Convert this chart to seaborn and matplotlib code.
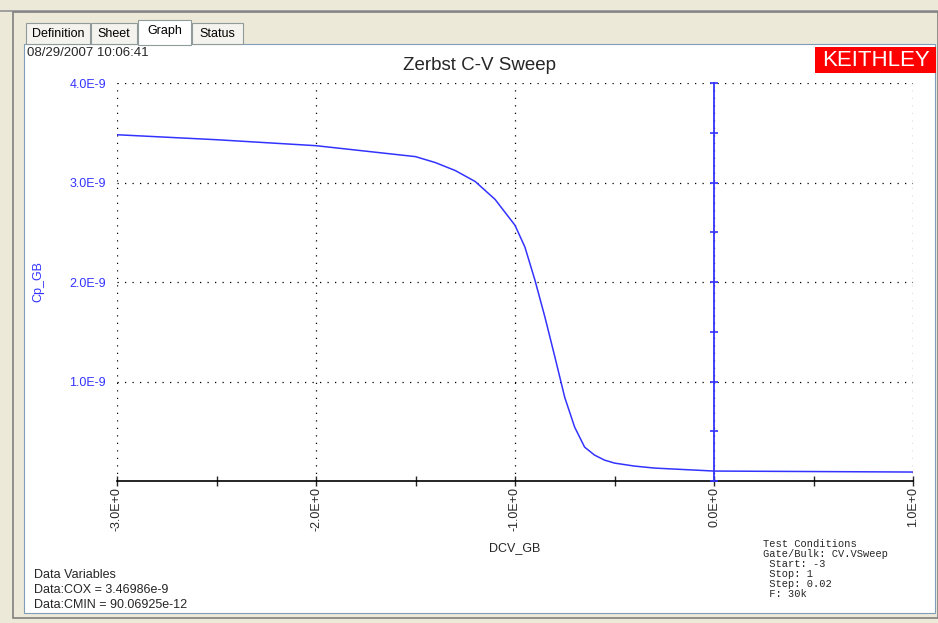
import numpy as np
import pandas as pd
import seaborn as sns
import matplotlib.pyplot as plt
from matplotlib.patches import Rectangle

# C-V sweep (gate voltage in V, capacitance in F)
dcv_gb = [-3.0, -2.5, -2.0, -1.5, -1.4, -1.3, -1.2, -1.1, -1.0, -0.95, -0.9,
          -0.85, -0.8, -0.75, -0.7, -0.65, -0.6, -0.55, -0.5, -0.4, -0.3,
          -0.2, -0.1, 0.0, 0.5, 1.0]
cp_gb = [3.48e-9, 3.43e-9, 3.37e-9, 3.26e-9, 3.20e-9, 3.12e-9, 3.01e-9,
         2.83e-9, 2.57e-9, 2.35e-9, 2.02e-9, 1.65e-9, 1.25e-9, 0.84e-9,
         0.54e-9, 0.34e-9, 0.26e-9, 0.21e-9, 0.18e-9, 0.15e-9, 0.13e-9,
         0.12e-9, 0.11e-9, 0.10e-9, 0.095e-9, 0.09e-9]

x_ticks = [-3, -2, -1, 0, 1]
x_labels = ["-3.0E+0", "-2.0E+0", "-1.0E+0", "0.0E+0", "1.0E+0"]
y_ticks = [1e-9, 2e-9, 3e-9, 4e-9]
y_labels = ["1.0E-9", "2.0E-9", "3.0E-9", "4.0E-9"]
tabs = ["Definition", "Sheet", "Graph", "Status"]
test_conditions = ["Test Conditions", "Gate/Bulk: CV.VSweep", " Start: -3",
                   " Stop: 1", " Step: 0.02", " F: 30k"]
data_vars = ["Data Variables", "Data:COX = 3.46986e-9",
             "Data:CMIN = 90.06925e-12"]

df = pd.DataFrame({"DCV_GB": dcv_gb, "Cp_GB": cp_gb})

sns.set_style("white")
plt.rcParams["font.family"] = ["Liberation Sans", "DejaVu Sans"]

W, H = 938, 623
fig = plt.figure(figsize=(W / 100, H / 100), dpi=100, facecolor="#ece9d8")


def box(x, y, w, h, **kw):
    # pixel box (top-left origin) -> rectangle in figure fraction
    r = Rectangle((x / W, 1 - (y + h) / H), w / W, h / H,
                  transform=fig.transFigure, **kw)
    fig.patches.append(r)


# window chrome
box(0, 10, W, 2, facecolor="#a0a0a0", edgecolor="none")
box(13, 12, 925, 606, facecolor="#ece9d8", edgecolor="#808080", lw=1.2)
box(24, 44, 911, 569, facecolor="white", edgecolor="#7f9db9", lw=0.8)
tab_x = [26, 91, 138, 192]
tab_w = [64, 46, 53, 51]
for name, tx, tw in zip(tabs, tab_x, tab_w):
    sel = name == "Graph"
    top = 20 if sel else 23
    box(tx, top, tw, 44 - top + (1 if sel else 0),
        facecolor="white" if sel else "#f4f3ee", edgecolor="#919b9c", lw=0.8)
    fig.text((tx + tw / 2) / W, 1 - (top + 11) / H, name, ha="center",
             va="center", fontsize=9, color="black")

fig.text(27 / W, 1 - 53 / H, "08/29/2007 10:06:41", fontsize=9.5, va="center")

# Keithley logo
box(815, 47, 121, 26, facecolor="#ff0000", edgecolor="none")
fig.text(876 / W, 1 - 61 / H, "KEITHLEY", color="white", fontsize=16,
         ha="center", va="center")

fig.text(479 / W, 1 - 65 / H, "Zerbst C-V Sweep", fontsize=13.5,
         ha="center", va="center")

ax = fig.add_axes([117 / W, 1 - 481 / H, 796 / W, 398 / H])
ax.set_zorder(3)
sns.lineplot(data=df, x="DCV_GB", y="Cp_GB", ax=ax, color="#3333ff", lw=1.1)
ax.set_xlim(-3, 1)
ax.set_ylim(0, 4e-9)
ax.set_facecolor("white")
ax.set_xticks(x_ticks)
ax.set_xticklabels(x_labels, rotation=90, fontsize=9)
ax.set_xticks([-2.5, -1.5, -0.5, 0.5], minor=True)
ax.set_yticks(y_ticks)
ax.set_yticklabels(y_labels, fontsize=9, color="#3333ff")
ax.tick_params(axis="x", which="both", direction="inout", length=7, width=1,
               bottom=True, pad=1)
ax.tick_params(axis="y", length=0, pad=8)
ax.grid(True, linestyle=(0, (1, 5)), color="black", lw=0.9)
for s in ["top", "right", "left"]:
    ax.spines[s].set_visible(False)
ax.spines["bottom"].set_color("black")
ax.spines["bottom"].set_linewidth(1.2)
ax.set_xlabel("DCV_GB", fontsize=9, labelpad=8)
ax.set_ylabel("Cp_GB", fontsize=9, color="#3333ff", labelpad=18)

# blue axis through V = 0
ax2 = ax.twinx()
ax2.set_zorder(4)
ax2.set_ylim(0, 4e-9)
for s in ["top", "left", "bottom"]:
    ax2.spines[s].set_visible(False)
ax2.spines["right"].set_position(("data", 0))
ax2.spines["right"].set_color("#3333ff")
ax2.spines["right"].set_linewidth(1.3)
ax2.set_yticks(np.arange(0, 4.01e-9, 0.5e-9))
ax2.set_yticklabels([])
ax2.tick_params(axis="y", direction="inout", length=6, color="#3333ff", width=1.2)

mono = ["Liberation Mono", "DejaVu Sans Mono"]
for i, line in enumerate(test_conditions):
    fig.text(763 / W, 1 - (544 + i * 10) / H, line, family=mono, fontsize=7.5,
             va="center")
for i, line in enumerate(data_vars):
    fig.text(34 / W, 1 - (575 + i * 15) / H, line, fontsize=9, va="center")

fig.savefig("out.png", dpi=100, facecolor=fig.get_facecolor())
